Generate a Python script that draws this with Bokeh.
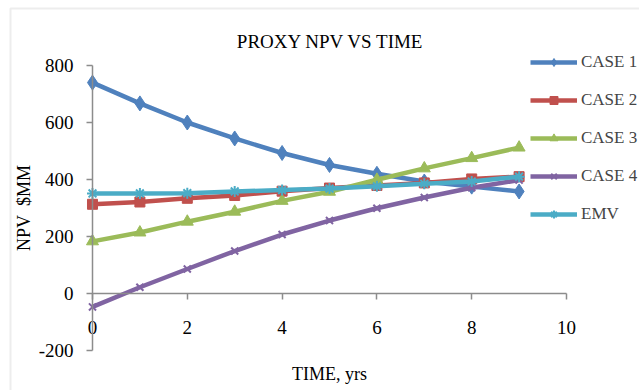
from bokeh.plotting import figure
from bokeh.models import (Range1d, BoxAnnotation, Legend, FixedTicker, Label, LinearAxis,
                          PrintfTickFormatter)
from bokeh.embed import file_html
from bokeh.resources import INLINE

years = [0, 1, 2, 3, 4, 5, 6, 7, 8, 9]
case1 = [740, 667, 600, 544, 493, 451, 420, 393, 375, 358]
case2 = [313, 321, 334, 344, 359, 370, 379, 388, 402, 410]
case3 = [183, 214, 252, 287, 325, 357, 399, 439, 475, 512]
case4 = [-47, 22, 86, 149, 207, 256, 299, 337, 371, 398]
emv = [351, 351, 352, 358, 363, 368, 376, 385, 393, 410]

x_ticks = [0, 2, 4, 6, 8, 10]
y_ticks = [-200, 0, 200, 400, 600, 800]

series = [
    ("CASE 1", case1, "#4F81BD", "diamond", 15, 1),
    ("CASE 2", case2, "#C0504D", "square", 10, 1),
    ("CASE 3", case3, "#9BBB59", "triangle", 12, 1),
    ("CASE 4", case4, "#8064A2", "x", 10, 2),
    ("EMV", emv, "#4BACC6", "asterisk", 11, 2),
]

FONT = "Liberation Serif"

# frame covers the whole canvas; data 0..10 maps to px 92..566, -200..800 to px 350..65
p = figure(width=639, height=390, output_backend="svg", toolbar_location=None,
           x_range=Range1d(-1.9409, 11.5401), y_range=Range1d(-340.35, 1028.07),
           min_border_left=0, min_border_right=0, min_border_top=0, min_border_bottom=0,
           x_axis_location=None, y_axis_location=None)
p.outline_line_color = None
p.xgrid.visible = False
p.ygrid.visible = False
p.background_fill_color = "white"
p.border_fill_color = "white"

xa = LinearAxis(fixed_location=0, bounds=(0, 10), ticker=FixedTicker(ticks=x_ticks),
                formatter=PrintfTickFormatter(format="%d"))
ya = LinearAxis(fixed_location=0, bounds=(-200, 800), ticker=FixedTicker(ticks=y_ticks),
                formatter=PrintfTickFormatter(format="%d"))
p.add_layout(xa, "below")
p.add_layout(ya, "left")

for ax in (xa, ya):
    ax.axis_line_color = "#8C8C8C"
    ax.axis_line_width = 1.5
    ax.major_tick_line_color = "#8C8C8C"
    ax.major_tick_line_width = 1.5
    ax.major_tick_in = 0
    ax.major_tick_out = 6
    ax.minor_tick_line_color = None
    ax.major_label_text_font = FONT
    ax.major_label_text_font_size = "19px"
    ax.major_label_text_color = "black"
    ax.axis_label_text_font = FONT
    ax.axis_label_text_font_size = "18px"
    ax.axis_label_text_font_style = "normal"
    ax.axis_label_text_color = "black"

xa.axis_label = "TIME, yrs"
xa.major_label_standoff = 21
xa.axis_label_standoff = 27
ya.axis_label = "NPV\u00a0 $MM"
ya.major_label_standoff = 13
ya.axis_label_standoff = 2

items = []
for name, vals, color, marker, size, lw in series:
    r1 = p.line(years, vals, line_color=color, line_width=4.5)
    r2 = p.scatter(years, vals, marker=marker, size=size, fill_color=color,
                   line_color=color, line_width=lw)
    items.append((name, [r1, r2]))

legend = Legend(items=items, location=(530, 166), padding=0, margin=0, spacing=18,
                glyph_width=47, glyph_height=20, label_height=20, label_standoff=4,
                label_text_font=FONT, label_text_font_size="17px",
                border_line_alpha=0, background_fill_alpha=0)
p.add_layout(legend, "center")

title = Label(x=330, y=349, x_units="screen", y_units="screen", text="PROXY NPV VS TIME",
              text_align="center", text_baseline="middle",
              text_font=FONT, text_font_size="19px", text_color="black")
p.add_layout(title)

frame = BoxAnnotation(left=10, right=800, top=8, bottom=600,
                      left_units="canvas", right_units="canvas",
                      top_units="canvas", bottom_units="canvas",
                      fill_alpha=0, line_color="#C4C4C4", line_width=2)
p.add_layout(frame)

open("out.html", "w").write(file_html(p, INLINE))
